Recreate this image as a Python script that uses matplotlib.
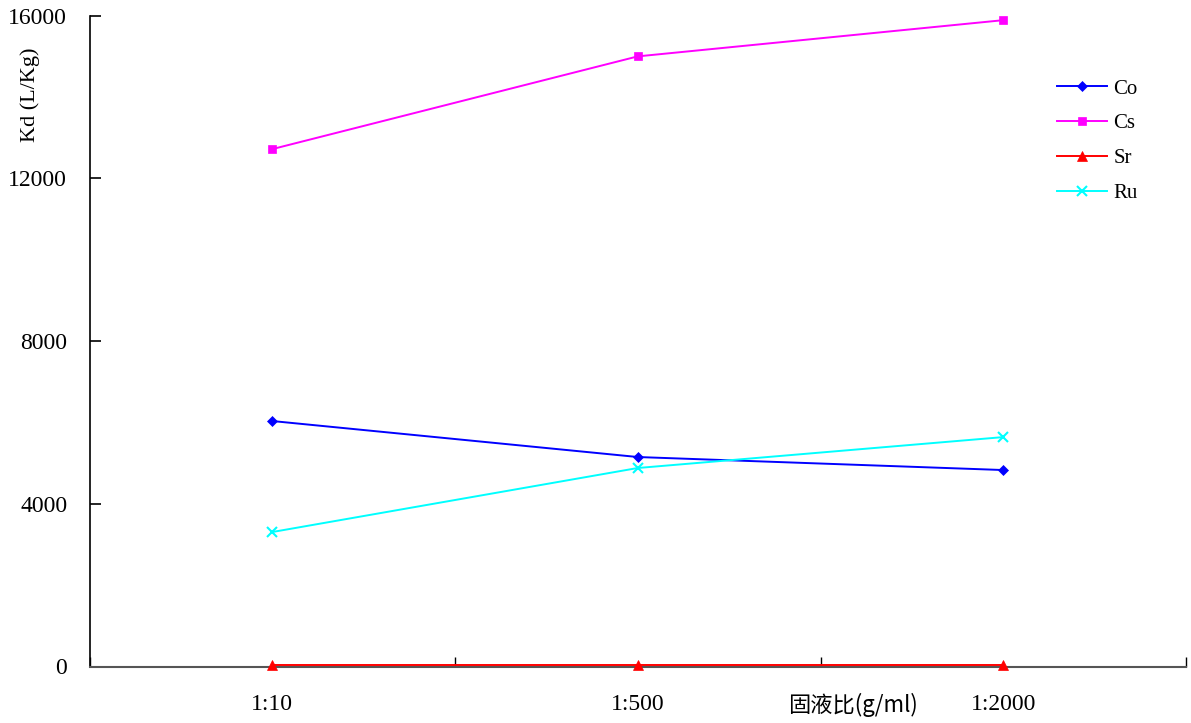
import matplotlib
matplotlib.use("Agg")
import matplotlib.pyplot as plt
from matplotlib.ticker import FixedLocator, NullFormatter

plt.rcParams['font.family'] = ['Liberation Serif', 'Noto Sans CJK SC', 'DejaVu Sans']

categories = ["1:10", "1:500", "1:2000"]
series_names = ["Co", "Cs", "Sr", "Ru"]
co = [6035, 5150, 4830]
cs = [12720, 15000, 15890]
sr = [30, 30, 30]
ru = [3306, 4880, 5640]
y_ticks = [0, 4000, 8000, 12000, 16000]

values = [co, cs, sr, ru]
colors = ["#0000FF", "#FF00FF", "#FF0000", "#00FFFF"]
markers = ["D", "s", "^", "x"]
msizes = [5, 6, 7, 7]

fig = plt.figure(figsize=(11.91, 7.23), dpi=100)
ax = fig.add_axes([89.5/1191, 1-666.5/723, (1186-89.5)/1191, (666.5-15.7)/723])

xpos = [i + 0.5 for i in range(len(categories))]
for name, vals, c, m, ms in zip(series_names, values, colors, markers, msizes):
    ax.plot(xpos, vals, color=c, marker=m, markersize=ms, linewidth=1.4,
            markeredgewidth=1.5 if m == "x" else 0.5, label=name, clip_on=False, zorder=3)

ax.set_xlim(0, 3)
ax.set_ylim(0, 16000)
ax.set_yticks(y_ticks)
ax.set_yticklabels([str(v) for v in y_ticks], fontsize=17)
ax.tick_params(axis='y', direction='in', length=8, width=1.2, pad=16, color='black')

ax.xaxis.set_major_locator(FixedLocator([0, 1, 2, 3]))
ax.xaxis.set_major_formatter(NullFormatter())
ax.xaxis.set_minor_locator(FixedLocator(xpos))
ax.set_xticklabels(categories, minor=True, fontsize=17)
ax.tick_params(axis='x', which='major', direction='in', length=7, width=1, color='black')
ax.tick_params(axis='x', which='minor', length=0, pad=20)

for s in ['top', 'right']:
    ax.spines[s].set_visible(False)
ax.spines['left'].set_color('black')
ax.spines['left'].set_linewidth(1.2)
ax.spines['bottom'].set_color('#555555')
ax.spines['bottom'].set_linewidth(1.5)

ax.set_xlabel("固液比(g/ml)", fontsize=16, family=['Noto Sans CJK SC', 'DejaVu Sans'])
ax.xaxis.set_label_coords((853-89.5)/1096.5, (666.5-705)/650.8)
ax.xaxis.label.set_va('center')
ax.set_ylabel("Kd (L/Kg)", fontsize=16)
ax.yaxis.set_label_coords((30-89.5)/1096.5, (666.5-95)/650.8)
ax.yaxis.label.set_va('center')

leg = ax.legend(loc='upper left', bbox_to_anchor=(1057/1191, 1-79/723),
                bbox_transform=fig.transFigure, frameon=False, fontsize=15,
                handlelength=2.4, handletextpad=0.3, labelspacing=0.73,
                borderpad=0, borderaxespad=0)

fig.savefig("out.png", dpi=100)
